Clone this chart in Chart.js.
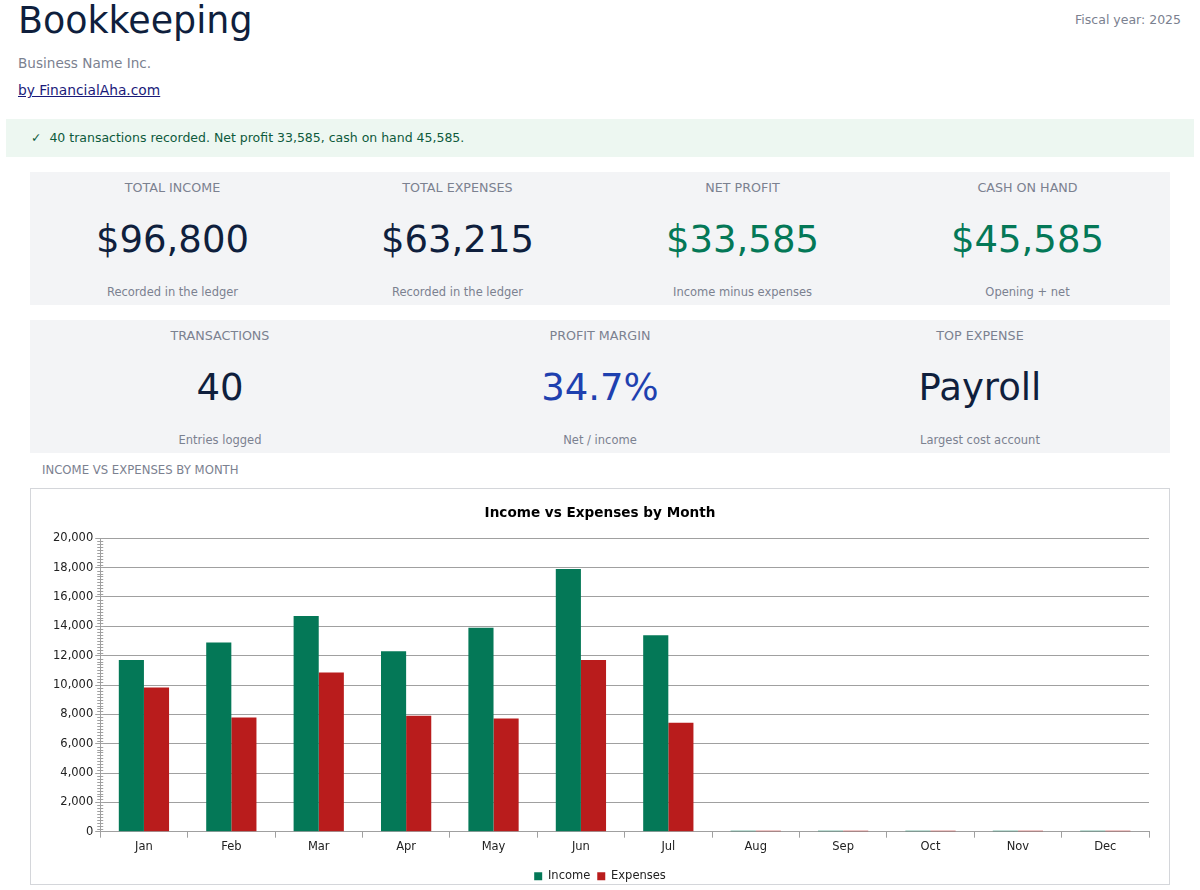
<!DOCTYPE html>
<html>
<head>
<meta charset="utf-8">
<script src="https://cdn.jsdelivr.net/npm/chart.js@4.4.1/dist/chart.umd.min.js"></script>
<style>
  body { margin: 0; font-family: "DejaVu Sans", sans-serif; background: #fff; width: 1200px; height: 890px; overflow: hidden; position: relative; }
  h1 { position: absolute; left: 18px; top: -1px; margin: 0; font-size: 36.4px; font-weight: normal; color: #0f1f3d; }
  .fy { position: absolute; right: 19px; top: 12px; font-size: 12.5px; color: #7b8190; }
  .biz { position: absolute; left: 18px; top: 55px; font-size: 13.6px; color: #7b8190; }
  .by { position: absolute; left: 18px; top: 82px; font-size: 13.8px; color: #1a1a7a; text-decoration: underline; }
  .alert { position: absolute; left: 6px; top: 119px; width: 1188px; height: 38px; background: #edf7f1; color: #0d5a3c; font-size: 12.5px; line-height: 38px; box-sizing: border-box; padding-left: 25px; }
  .row { position: absolute; left: 30px; width: 1140px; height: 133px; background: #f3f4f6; display: flex; }
  .card { flex: 1; text-align: center; position: relative; }
  .lbl { position: absolute; top: 8px; width: 100%; font-size: 12.7px; color: #7b8190; }
  .val { position: absolute; top: 46px; width: 100%; font-size: 37px; color: #0f1f3d; }
  .sub { position: absolute; top: 113px; width: 100%; font-size: 11.5px; color: #7b8190; }
  .green { color: #047857; }
  .blue { color: #1e40af; }
  .sec { position: absolute; left: 42px; top: 463px; font-size: 11.7px; color: #7b8190; }
  .box { position: absolute; left: 30px; top: 488px; width: 1140px; height: 397px; border: 1px solid #d4d6da; box-sizing: border-box; }
</style>
</head>
<body>
<h1>Bookkeeping</h1>
<div class="fy">Fiscal year: 2025</div>
<div class="biz">Business Name Inc.</div>
<div class="by">by FinancialAha.com</div>
<div class="alert">✓&nbsp; 40 transactions recorded. Net profit 33,585, cash on hand 45,585.</div>

<div class="row" style="top:172px">
  <div class="card"><div class="lbl">TOTAL INCOME</div><div class="val">$96,800</div><div class="sub">Recorded in the ledger</div></div>
  <div class="card"><div class="lbl">TOTAL EXPENSES</div><div class="val">$63,215</div><div class="sub">Recorded in the ledger</div></div>
  <div class="card"><div class="lbl">NET PROFIT</div><div class="val green">$33,585</div><div class="sub">Income minus expenses</div></div>
  <div class="card"><div class="lbl">CASH ON HAND</div><div class="val green">$45,585</div><div class="sub">Opening + net</div></div>
</div>
<div class="row" style="top:320px">
  <div class="card"><div class="lbl">TRANSACTIONS</div><div class="val">40</div><div class="sub">Entries logged</div></div>
  <div class="card"><div class="lbl">PROFIT MARGIN</div><div class="val blue">34.7%</div><div class="sub">Net / income</div></div>
  <div class="card"><div class="lbl">TOP EXPENSE</div><div class="val">Payroll</div><div class="sub">Largest cost account</div></div>
</div>

<div class="sec">INCOME VS EXPENSES BY MONTH</div>
<div class="box"><canvas id="myChart"></canvas></div>

<script>
// Monthly totals
const months = ['Jan', 'Feb', 'Mar', 'Apr', 'May', 'Jun', 'Jul', 'Aug', 'Sep', 'Oct', 'Nov', 'Dec'];
const income = [11700, 12900, 14700, 12300, 13900, 17900, 13400, 0, 0, 0, 0, 0];
const expenses = [9830, 7790, 10850, 7900, 7720, 11700, 7425, 0, 0, 0, 0, 0];

Chart.defaults.font.family = '"DejaVu Sans", sans-serif';
Chart.defaults.color = '#222';

// small ticks between the major y ticks
const minorTicks = {
    id: 'minorTicks',
    afterDraw(chart) {
        const y = chart.scales.y;
        const ctx = chart.ctx;
        ctx.save();
        ctx.strokeStyle = '#a0a0a0';
        ctx.lineWidth = 1;
        for (let v = 0; v <= y.max; v += 200) {
            if (v % 2000 === 0) continue;
            const py = Math.round(y.getPixelForValue(v)) + 0.5;
            ctx.beginPath();
            ctx.moveTo(y.right - 3, py);
            ctx.lineTo(y.right + 3, py);
            ctx.stroke();
        }
        ctx.restore();
    }
};

const ctx = document.getElementById('myChart').getContext('2d');
new Chart(ctx, {
    type: 'bar',
    data: {
        labels: months,
        datasets: [
            { label: 'Income', data: income, backgroundColor: '#047857', minBarLength: 1 },
            { label: 'Expenses', data: expenses, backgroundColor: '#b91c1c', minBarLength: 1 }
        ]
    },
    options: {
        responsive: true,
        maintainAspectRatio: false,
        animation: false,
        layout: { padding: { left: 20, right: 20, top: 10, bottom: -8 } },
        datasets: { bar: { barPercentage: 1, categoryPercentage: 0.575 } },
        plugins: {
            title: {
                display: true,
                text: 'Income vs Expenses by Month',
                color: '#000',
                font: { size: 13.6, weight: 'bold' },
                padding: { top: 6, bottom: 17 }
            },
            legend: {
                position: 'bottom',
                labels: { boxWidth: 8, boxHeight: 8, padding: 7, font: { size: 11.5 }, color: '#222' }
            },
            tooltip: { enabled: false }
        },
        scales: {
            x: {
                grid: { display: true, drawOnChartArea: false, drawTicks: true, tickLength: 6, color: '#a0a0a0' },
                border: { color: '#a0a0a0' },
                ticks: { font: { size: 11.5 }, color: '#222', padding: 2 },
                afterFit: scale => { scale.height += 8; }  // extra room above the legend
            },
            y: {
                min: 0,
                max: 20000,
                ticks: { stepSize: 2000, font: { size: 11.5 }, color: '#222', padding: 2,
                    callback: v => v.toLocaleString('en-US') },
                grid: { color: '#a0a0a0', tickLength: 5 },
                border: { color: '#a0a0a0' }
            }
        }
    },
    plugins: [minorTicks]
});
</script>
</body>
</html>
